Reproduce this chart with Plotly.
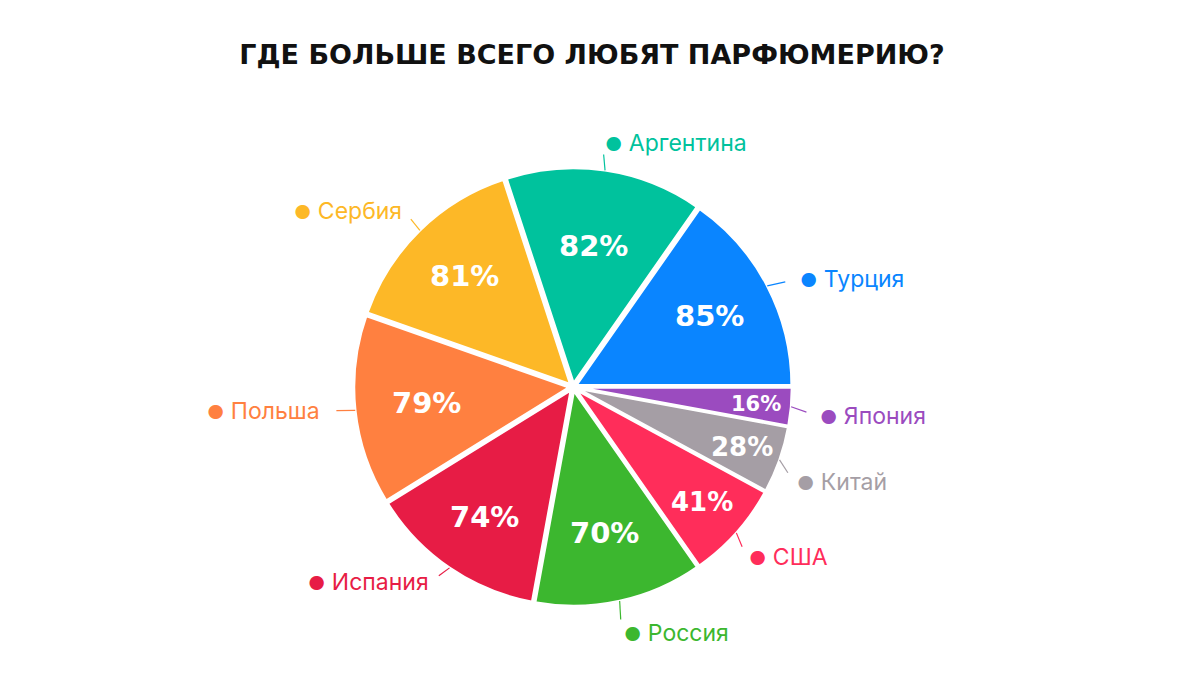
"""Где больше всего любят парфюмерию — пирог с подписями по странам."""
import math

import plotly.graph_objects as go

countries = ["Турция", "Аргентина", "Сербия", "Польша", "Испания",
             "Россия", "США", "Китай", "Япония"]
values = [85, 82, 81, 79, 74, 70, 41, 28, 16]
colors = ["#0a85ff", "#00c29d", "#fdb827", "#ff8040", "#e71c45",
          "#3cb72f", "#ff2d5a", "#a59ea5", "#9b4bbf"]

# стиль подписей процентов (доля радиуса и кегль)
pct_r = [0.71, 0.66, 0.72, 0.68, 0.73, 0.69, 0.80, 0.83, 0.85]
pct_size = [29, 29, 29, 29, 29, 29, 26, 26, 21]
# сдвиг внешних подписей, px
lab_dx = [2, -7, 7, 0, 0, -5, -14, -16, -6]
lab_dy = [8, 5, 4, -3, -13, 0, 2, 11, 6]

W, H = 1184, 679
OFF = 8                      # поле страницы вокруг графика
CX, CY, R = 573 - OFF, 387 - OFF, 216   # пиксели
PULL = 0.015

half = R * (1 + PULL)
dom_x = [(CX - half) / W, (CX + half) / W]
dom_y = [(H - CY - half) / H, (H - CY + half) / H]

total = sum(values)
# первый сектор начинается с 3 часов и идёт против часовой
rot = 90 - 360 * values[0] / total

fig = go.Figure(go.Pie(
    labels=countries, values=values, sort=False,
    direction="counterclockwise", rotation=rot,
    marker=dict(colors=colors, line=dict(color="white", width=3)),
    pull=[PULL] * len(values),
    textinfo="none", hoverinfo="label+value",
    domain=dict(x=dom_x, y=dom_y), showlegend=False,
))


def _pt(r, ang, dx=0.0, dy=0.0):
    a = math.radians(ang)
    return (CX + r * math.cos(a) + dx) / W, 1 - (CY - r * math.sin(a) + dy) / H


start = 0.0
for i, (name, val, col) in enumerate(zip(countries, values, colors)):
    span = 360 * val / total
    mid = start + span / 2
    start += span

    x, y = _pt(R * pct_r[i], mid)
    fig.add_annotation(x=x, y=y, xref="paper", yref="paper",
                       text=f"{val}%", showarrow=False,
                       font=dict(family="DejaVu Sans", size=pct_size[i],
                                 color="white", weight="bold"),
                       xanchor="center", yanchor="middle")

    dx, dy = lab_dx[i], lab_dy[i]
    x0, y0 = _pt(R + 3, mid)
    x1, y1 = _pt(R + 22, mid, dx * 0.6, dy * 0.6)
    fig.add_shape(type="line", xref="paper", yref="paper",
                  x0=x0, y0=y0, x1=x1, y1=y1, line=dict(color=col, width=1.2))

    lx, ly = _pt(R + 36, mid, dx, dy)
    right = math.cos(math.radians(mid)) >= 0
    fig.add_annotation(x=lx, y=ly, xref="paper", yref="paper",
                       text=f"<span style='font-size:19px'>●</span> {name}",
                       showarrow=False,
                       font=dict(family="Inter", size=23, color=col),
                       xanchor="left" if right else "right", yanchor="middle")

fig.update_layout(
    width=W, height=H,
    title=dict(text="ГДЕ БОЛЬШЕ ВСЕГО ЛЮБЯТ ПАРФЮМЕРИЮ?",
               x=(592 - OFF) / W, xanchor="center",
               y=1 - (55 - OFF) / H, yanchor="middle",
               font=dict(family="DejaVu Sans", size=27, color="#111111",
                         weight="bold")),
    paper_bgcolor="white", plot_bgcolor="white",
    margin=dict(l=0, r=0, t=0, b=0),
)

fig.write_html("out.html")
